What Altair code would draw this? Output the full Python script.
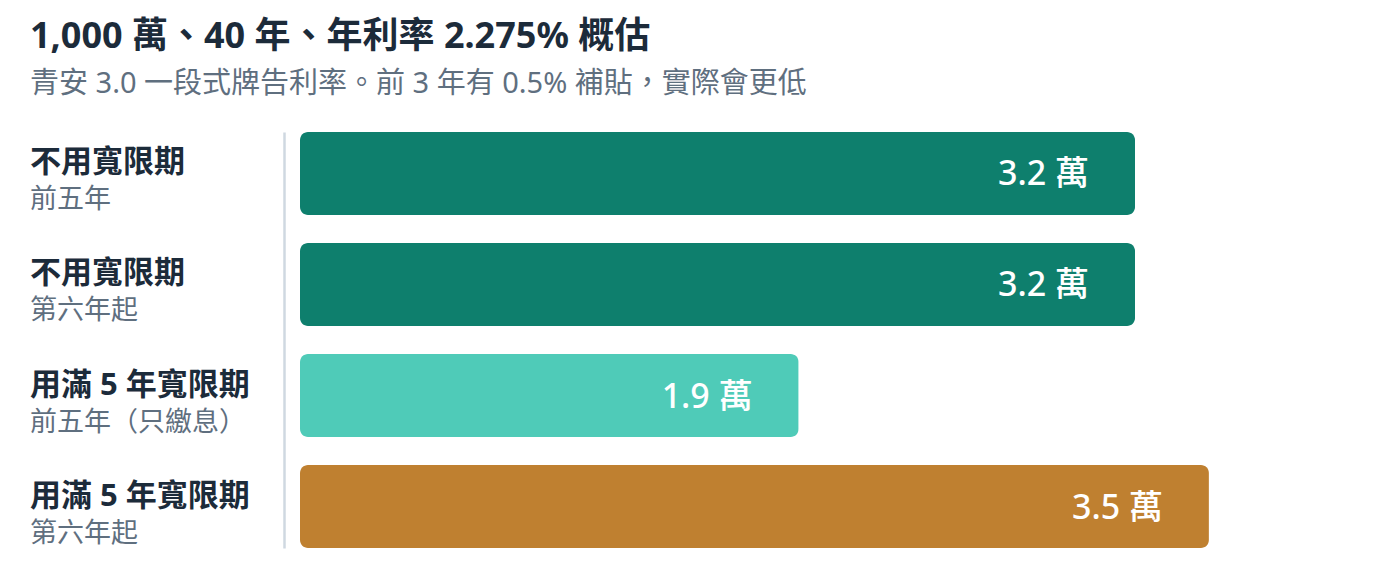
import altair as alt
import pandas as pd

# ---- data ----
line1 = ["不用寬限期", "不用寬限期", "用滿 5 年寬限期", "用滿 5 年寬限期"]
line2 = ["前五年", "第六年起", "前五年（只繳息）", "第六年起"]
monthly_wan = [3.175, 3.175, 1.896, 3.456]   # monthly payment, 萬
bar_colors = ["#0e7f6d", "#0e7f6d", "#4fcbb8", "#bf8030"]

keys = [f"{a}｜{b}" for a, b in zip(line1, line2)]
df = pd.DataFrame({"key": keys, "line1": line1, "line2": line2, "value": monthly_wan})

FONT = "'Noto Sans', 'Noto Sans CJK TC', sans-serif"

y_enc = alt.Y(
    "key:N",
    sort=keys,
    scale=alt.Scale(paddingInner=0.2523, paddingOuter=0),
    axis=alt.Axis(
        labels=False, ticks=False, title=None, offset=16,
        domainColor="#cfd8e1", domainWidth=2.5,
    ),
)
x_enc = alt.X("value:Q", scale=alt.Scale(domain=[0, 4]), axis=None)

base = alt.Chart(df)

bars = base.mark_bar(cornerRadius=8).encode(
    x=x_enc,
    y=y_enc,
    color=alt.Color("key:N", sort=keys,
                    scale=alt.Scale(domain=keys, range=bar_colors), legend=None),
)

vals = base.transform_calculate(
    lab="format(datum.value, '.1f') + ' 萬'"
).mark_text(
    align="right", baseline="middle", dx=-46, dy=2, fontSize=34,
    fontWeight=500, color="white", font=FONT,
).encode(x=x_enc, y=alt.Y("key:N", sort=keys), text="lab:N")

lab1 = base.mark_text(
    align="left", baseline="middle", dy=-10, fontSize=31, fontWeight="bold",
    color="#1c2b3a", font=FONT,
).encode(x=alt.value(-270), y=alt.Y("key:N", sort=keys), text="line1:N")

lab2 = base.mark_text(
    align="left", baseline="middle", dy=27, fontSize=27, fontWeight="normal",
    color="#5f6f7f", font=FONT,
).encode(x=alt.value(-270), y=alt.Y("key:N", sort=keys), text="line2:N")

chart = alt.layer(bars, vals, lab1, lab2).properties(
    width=1052,
    height=416,
    autosize=alt.AutoSizeParams(type="none"),
    padding={"left": 292, "top": 124, "right": 40, "bottom": 20},
    view=alt.ViewBackground(stroke="transparent", strokeWidth=0),
    title=alt.TitleParams(
        text="1,000 萬、40 年、年利率 2.275% 概估",
        subtitle="青安 3.0 一段式牌告利率。前 3 年有 0.5% 補貼，實際會更低",
        anchor="start", offset=32,
        font=FONT, fontSize=36, fontWeight="bold", color="#1c2b3a",
        subtitleFont=FONT, subtitleFontSize=29, subtitleColor="#5f6f7f",
        subtitlePadding=14,
    ),
).configure_view(stroke="transparent", strokeWidth=0).configure(background="white")

chart.save("out.html", embed_options={"renderer": "svg", "actions": False})
